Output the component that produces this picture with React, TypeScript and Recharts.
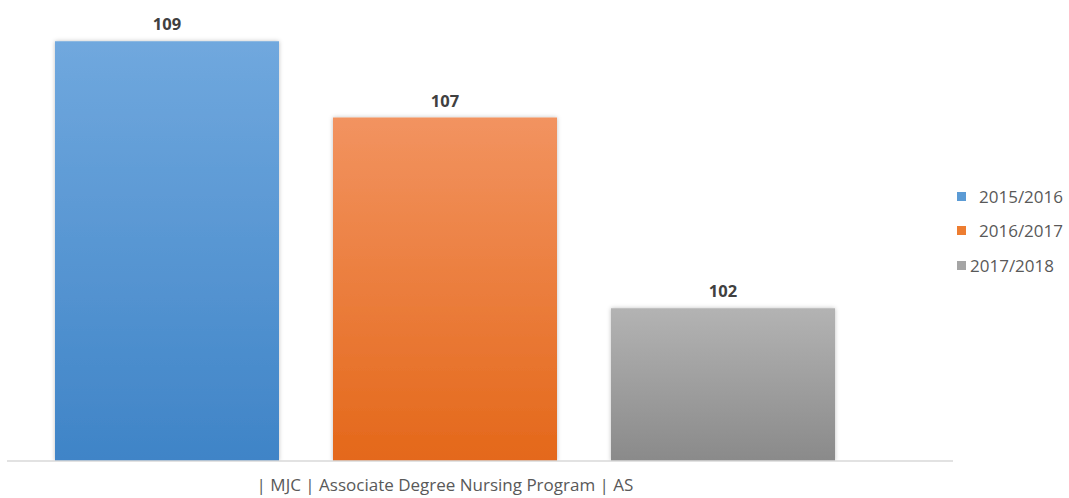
import { BarChart, Bar, XAxis, YAxis, Legend, LabelList } from "recharts";

const categories = ["| MJC | Associate Degree Nursing Program | AS"];
const seriesNames = ["2015/2016", "2016/2017", "2017/2018"];
const seriesValues = [109, 107, 102];
const swatchColors = ["#5b9bd5", "#ed7d31", "#a5a5a5"];
const gradientStops = [
    ["#70a8de", "#3f84c7"],
    ["#f29360", "#e4681a"],
    ["#b3b3b3", "#8a8a8a"],
];

const data = categories.map((name) => {
    const row: Record<string, string | number> = { name };
    seriesNames.forEach((s, i) => {
        row[s] = seriesValues[i];
    });
    return row;
});

const font = "'Open Sans', sans-serif";

const renderLegend = () => (
    <div style={{ fontFamily: font, fontSize: 17, color: "#595959" }}>
        {seriesNames.map((s, i) => (
            <div key={s} style={{ display: "flex", alignItems: "center", height: 34.5 }}>
                <span
                    style={{
                        display: "inline-block",
                        width: 9,
                        height: 9,
                        background: swatchColors[i],
                        marginRight: i === 2 ? 4 : 13,
                    }}
                />
                {s}
            </div>
        ))}
    </div>
);

const App = () => {
    return (
        <div style={{ position: "absolute", top: 0, left: 0, width: 1069, height: 498, background: "#fff" }}>
            <BarChart
                width={1069}
                height={498}
                data={data}
                margin={{ top: 3, right: 4, bottom: 7, left: 7 }}
                barSize={224}
                barGap={54}
            >
                <defs>
                    {gradientStops.map(([top, bottom], i) => (
                        <linearGradient key={i} id={`grad${i}`} x1="0" y1="0" x2="0" y2="1">
                            <stop offset="0%" stopColor={top} />
                            <stop offset="100%" stopColor={bottom} />
                        </linearGradient>
                    ))}
                    <filter id="shadow" x="-10%" y="-10%" width="120%" height="120%">
                        <feDropShadow dx="0" dy="0" stdDeviation="2" floodColor="#000" floodOpacity="0.25" />
                    </filter>
                </defs>

                <XAxis
                    dataKey="name"
                    padding={{ left: 0, right: 70 }}
                    axisLine={{ stroke: "#d9d9d9", strokeWidth: 1.5 }}
                    tickLine={false}
                    tickMargin={12}
                    height={30}
                    tick={{ fill: "#595959", fontSize: 17, fontFamily: font }}
                />
                <YAxis hide domain={[98, 110]} allowDataOverflow />

                <Legend
                    layout="vertical"
                    align="right"
                    verticalAlign="top"
                    content={renderLegend}
                    wrapperStyle={{ left: 957, top: 179, width: 112 }}
                />

                {seriesNames.map((s, i) => (
                    <Bar
                        key={s}
                        dataKey={s}
                        fill={`url(#grad${i})`}
                        filter="url(#shadow)"
                        isAnimationActive={false}
                    >
                        <LabelList
                            dataKey={s}
                            position="top"
                            offset={11}
                            fill="#404040"
                            fontSize={16.5}
                            fontWeight="bold"
                            fontFamily={font}
                        />
                    </Bar>
                ))}
            </BarChart>
        </div>
    );
};

export default App;
